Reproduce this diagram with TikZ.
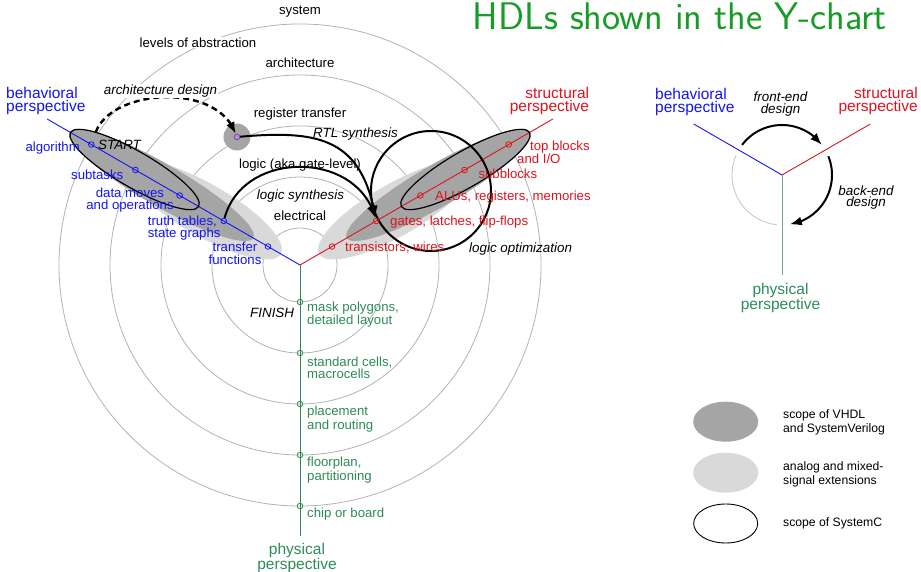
\documentclass[tikz,border=0pt]{standalone}
\usepackage{fontspec}
\setmainfont{Liberation Sans}
\usetikzlibrary{arrows.meta,calc,bending}

\definecolor{bhv}{RGB}{20,20,245}
\definecolor{str}{RGB}{220,20,30}
\definecolor{phy}{RGB}{46,139,87}
\definecolor{ringgray}{RGB}{178,178,178}
\definecolor{vhdlgray}{RGB}{165,165,165}
\definecolor{analoggray}{RGB}{217,217,217}
\definecolor{titlegreen}{RGB}{25,155,40}
\definecolor{rtmark}{RGB}{130,60,210}

\begin{document}
\begin{tikzpicture}[x=1pt,y=1pt,
  ring/.style={draw=ringgray,line width=0.8pt},
  axis/.style={line width=0.9pt},
  mk/.style={circle,draw,fill=none,inner sep=0pt,minimum size=5.6pt,line width=0.8pt},
  lbl/.style={font=\fontsize{13.2}{12.2}\selectfont,inner sep=0pt,align=left},
  ctr/.style={font=\fontsize{13.2}{12.2}\selectfont,inner sep=0pt,align=center},
  ital/.style={font=\fontsize{13.4}{11.5}\selectfont\itshape,inner sep=0pt,align=center},
  persp/.style={font=\fontsize{15.5}{12.5}\selectfont,inner sep=0pt},
  leg/.style={font=\fontsize{12.2}{14.3}\selectfont,inner sep=0pt,align=left,anchor=west},
  flow/.style={line width=2pt,-{Latex[length=12pt,width=9pt]}},
  flowdash/.style={line width=2.4pt,dash pattern=on 6pt off 4pt,-{Latex[length=12pt,width=9pt]}},
  scopec/.style={draw=black,line width=1.2pt}
]
\useasboundingbox (-300,-307) rectangle (621,265);

% ---------- levels of abstraction (concentric rings) ----------
\foreach \k in {0,...,4}{
  \draw[ring] (0,0) circle[radius={37+51*\k}];
}

% ---------- language scopes ----------
% analog / mixed-signal extensions
\fill[analoggray,shift={(150:110)},rotate=-30] (0,0) ellipse[x radius=88,y radius=26];
\fill[analoggray,shift={(30:110)},rotate=30] (0,0) ellipse[x radius=88,y radius=26];
% VHDL and SystemVerilog
\fill[vhdlgray,shift={(150:160)},rotate=-30] (0,0) ellipse[x radius=106,y radius=21];
\fill[vhdlgray,shift={(30:160)},rotate=30] (0,0) ellipse[x radius=106,y radius=21];
% register-transfer spot
\fill[vhdlgray] (-63,128) circle[radius=13.5];

% ---------- the three axes ----------
\coordinate (O) at (0,0);
\coordinate (bend) at (150:292);
\coordinate (send) at (30:292);
\coordinate (pend) at (0,-271);
\draw[axis,bhv] (O) -- (bend);
\draw[axis,str] (O) -- (send);
\draw[axis,phy] (O) -- (pend);

% SystemC scope
\draw[scopec,shift={(150:191)},rotate=-30] (0,0) ellipse[x radius=74,y radius=18];
\draw[scopec,shift={(30:191)},rotate=30] (0,0) ellipse[x radius=74,y radius=18];
% logic optimization loop
\draw[line width=2pt] (131,74) circle[radius=60];

% ---------- markers on the axes ----------
\foreach \k in {0,...,4}{
  \node[mk,draw=bhv] (b\k) at (150:{37+51*\k}) {};
  \node[mk,draw=str] (s\k) at (30:{37+51*\k}) {};
  \node[mk,draw=phy] (p\k) at (0,{-37-51*\k}) {};
}
\node[mk,draw=rtmark] (rt) at (-63,128) {};

% ---------- design flows ----------
\draw[flowdash,shorten <=10pt] (b4) to[out=70,in=110,looseness=1.0] (rt);
\draw[flow] (rt) to[out=5,in=100,looseness=1.3] (s1);
\draw[flow] (b1) to[out=75,in=105,looseness=1.2] (s1);

% ---------- ring labels ----------
\node[ctr] (lsys) at (0,253) {system};
\node[ctr] (larch) at (0,202) {architecture};
\node[ctr] (lrt) at (0,151) {register transfer};
\node[ctr] (llog) at (0,100) {logic (aka gate-level)};
\node[ctr] (lel) at (0,49) {electrical};
\node[ctr,fill=white,inner sep=1pt] (lvl) at (-102,222.5) {levels of abstraction};

\node[ital,fill=white,inner sep=1pt] (tarch) at (-139.5,174) {architecture design};
\node[ital] (trtl) at (55.5,131) {RTL synthesis};
\node[ital] (tls) at (0.5,69) {logic synthesis};
\node[ital,anchor=west] (tlo) at (169,16) {logic optimization};
\node[ital,anchor=west] (tstart) at (-202,120) {START};
\node[ital,anchor=east] (tfin) at (-5.7,-47.5) {FINISH};

% ---------- behavioral labels ----------
\node[lbl,text=bhv,anchor=east] (lalg) at (-220,117) {algorithm};
\node[lbl,text=bhv,anchor=east] (lsub) at (-176.5,90) {subtasks};
\node[ctr,text=bhv] (ldm) at (-170,65) {data moves\\and operations};
\node[lbl,text=bhv,anchor=west] (ltt) at (-152.3,36.7) {truth tables,\\state graphs};
\node[ctr,text=bhv] (ltf) at (-65,11.7) {transfer\\functions};

% ---------- structural labels ----------
\node[lbl,text=str,anchor=west] (ltop) at (217,112.5) {\hspace*{13pt}top blocks\\and I/O};
\node[lbl,text=str,anchor=west] (lsb) at (178.3,90.8) {subblocks};
\node[lbl,text=str,anchor=west] (lalu) at (135,68.3) {ALUs, registers, memories};
\node[lbl,text=str,anchor=west] (lgate) at (90,42.5) {gates, latches, flip-flops};
\node[lbl,text=str,anchor=west] (ltr) at (45,17.5) {transistors, wires};

% ---------- physical labels ----------
\node[lbl,text=phy,anchor=west] (lmask) at (7,-49.7) {mask polygons,\\detailed layout};
\node[lbl,text=phy,anchor=west] (lstd) at (7,-103) {standard cells,\\macrocells};
\node[lbl,text=phy,anchor=west] (lpr) at (7,-154.2) {placement\\and routing};
\node[lbl,text=phy,anchor=west] (lfp) at (7,-205) {floorplan,\\partitioning};
\node[lbl,text=phy,anchor=west] (lchip) at (7,-248.8) {chip or board};

% ---------- perspective names ----------
\node[persp,text=bhv,anchor=west,align=left] (pb) at (-294,164.2) {behavioral\\perspective};
\node[persp,text=str,anchor=east,align=right] (ps) at (289.3,164.2) {structural\\perspective};
\node[persp,text=phy,align=center] (pp) at (-3,-293) {physical\\perspective};

% ---------- title ----------
\node[anchor=base east,inner sep=0pt,text=titlegreen,font=\sffamily\fontsize{38.5}{42}\selectfont] (title) at (587,235.5) {HDLs shown in the Y-chart};

% ---------- small Y-chart: front-end and back-end ----------
\coordinate (R) at (482,90);
\draw[ring,draw=ringgray!75] (R) ++(157:50) arc[start angle=157,end angle=264,radius=50];
\draw[axis,bhv] (R) -- ++(150:102);
\draw[axis,str] (R) -- ++(30:102);
\draw[axis,phy!70] (R) -- ++(0,-100);
\draw[flow] (R) ++(143:50) arc[start angle=143,end angle=37,radius=50];
\draw[flow] (R) ++(22:50) arc[start angle=22,end angle=-81,radius=50];
\node[persp,text=bhv,anchor=west,align=left] (pb2) at (355,163) {behavioral\\perspective};
\node[persp,text=str,anchor=east,align=right] (ps2) at (618,164) {structural\\perspective};
\node[persp,text=phy,align=center] (pp2) at (480.5,-33) {physical\\perspective};
\node[ital] (tfe) at (480.5,161) {front-end\\design};
\node[ital] (tbe) at (566,67.5) {back-end\\design};

% ---------- legend ----------
\fill[vhdlgray] (425.7,-156.7) ellipse[x radius=32.5,y radius=20];
\fill[analoggray] (425.7,-207.7) ellipse[x radius=32.5,y radius=20];
\draw[line width=0.9pt] (425.7,-258.5) ellipse[x radius=32,y radius=19.5];
\node[leg] (k1) at (483,-157.5) {scope of VHDL\\and SystemVerilog};
\node[leg] (k2) at (483,-209) {analog and mixed-\\signal extensions};
\node[leg] (k3) at (483,-258) {scope of SystemC};
\end{tikzpicture}
\end{document}
